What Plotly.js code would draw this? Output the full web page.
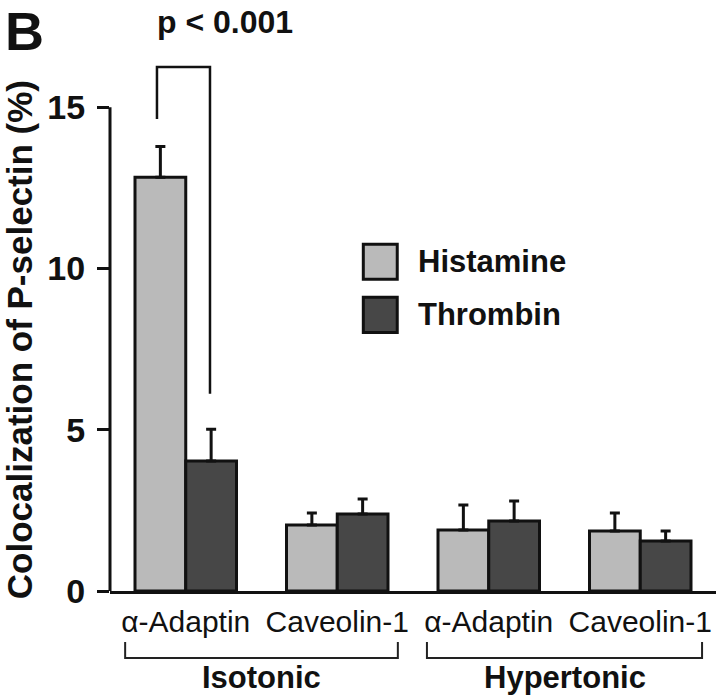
<!DOCTYPE html>
<html>
<head>
<meta charset="utf-8">
<script src="https://cdn.plot.ly/plotly-3.0.1.min.js"></script>
<style>html,body{margin:0;padding:0;background:#fff;}#chart{width:720px;height:700px;}</style>
</head>
<body>
<div id="chart"></div>
<script>
// ---- data ----
const categoryKeys = ["iso-adaptin", "iso-caveolin", "hyper-adaptin", "hyper-caveolin"];
const tickLabels = ["α-Adaptin", "Caveolin-1", "α-Adaptin", "Caveolin-1"];
const groupLabels = ["Isotonic", "Hypertonic"];
const seriesNames = ["Histamine", "Thrombin"];
const histamine = [12.83, 2.05, 1.89, 1.86];
const histamineErr = [0.96, 0.37, 0.78, 0.56];
const thrombin = [4.03, 2.39, 2.17, 1.55];
const thrombinErr = [0.99, 0.46, 0.62, 0.31];
const yTicks = [0, 5, 10, 15];
const yTitle = "Colocalization of P-selectin (%)";
const pLabel = "p < 0.001";
const panelLabel = "B";

// ---- style ----
const colors = ["#bababa", "#474747"];
const FONT = "Liberation Sans, Arial, Helvetica, sans-serif";

function barTrace(name, vals, errs, color) {
  return {
    type: "bar", name: name, x: categoryKeys, y: vals,
    marker: {color: color, line: {color: "#111", width: 3}},
    error_y: {type: "data", symmetric: false, array: errs, arrayminus: vals.map(() => 0),
              color: "#111", thickness: 3, width: 5},
    showlegend: false, hoverinfo: "skip"
  };
}
const traces = [
  barTrace(seriesNames[0], histamine, histamineErr, colors[0]),
  barTrace(seriesNames[1], thrombin, thrombinErr, colors[1])
];

const yTop = 16.5;
const shapes = [];
const annotations = [];
// y axis line from 0 to 15
shapes.push({type: "line", xref: "paper", yref: "y", x0: 0, x1: 0, y0: 0, y1: yTicks[yTicks.length - 1],
             line: {color: "#111", width: 3}});
// significance bracket over first group
const hOff = -0.19, tOff = 0.16;
shapes.push({type: "path", xref: "x", yref: "y",
  path: `M ${hOff} ${histamine[0] + histamineErr[0] + 0.85} L ${hOff} 16.25 L ${tOff} 16.25 L ${tOff} ${thrombin[0] + thrombinErr[0] + 1.1}`,
  line: {color: "#111", width: 2.5}});
annotations.push({xref: "paper", yref: "paper", x: 0.19, y: 1.108, yanchor: "top", xanchor: "center",
  text: "<b>" + pLabel + "</b>", showarrow: false, font: {family: FONT, size: 32, color: "#111"}});
// panel letter
annotations.push({xref: "paper", yref: "paper", x: -0.177, y: 1.112, xanchor: "left", yanchor: "top",
  text: "<b>" + panelLabel + "</b>", showarrow: false, font: {family: FONT, size: 54, color: "#111"}});
// y title
annotations.push({xref: "paper", yref: "paper", x: -0.148, y: 0.472, xanchor: "center", yanchor: "middle",
  textangle: -90, text: "<b>" + yTitle + "</b>", showarrow: false, font: {family: FONT, size: 35, color: "#111"}});
// group brackets
const groupSpans = [[0.025, 0.475], [0.523, 0.977]];
groupSpans.forEach((s, i) => {
  shapes.push({type: "path", xref: "paper", yref: "paper",
    path: `M ${s[0]} -0.096 L ${s[0]} -0.126 L ${s[1]} -0.126 L ${s[1]} -0.096`,
    line: {color: "#222", width: 2}});
  annotations.push({xref: "paper", yref: "paper", x: (s[0] + s[1]) / 2, y: -0.163, xanchor: "center", yanchor: "middle",
    text: "<b>" + groupLabels[i] + "</b>", showarrow: false, font: {family: FONT, size: 31, color: "#111"}});
});
// manual legend
const legX = 0.418, legY = [0.619, 0.519];
seriesNames.forEach((n, i) => {
  shapes.push({type: "rect", xref: "paper", yref: "paper", x0: legX, x1: legX + 0.056,
    y0: legY[i] - 0.033, y1: legY[i] + 0.033, fillcolor: colors[i], line: {color: "#111", width: 3}});
  annotations.push({xref: "paper", yref: "paper", x: legX + 0.087, y: legY[i], xanchor: "left", yanchor: "middle",
    text: "<b>" + n + "</b>", showarrow: false, font: {family: FONT, size: 31, color: "#111"}});
});

const layout = {
  width: 720, height: 700,
  margin: {l: 110, r: 4, t: 59, b: 109},
  paper_bgcolor: "#fff", plot_bgcolor: "#fff",
  barmode: "group", bargap: 0.33, bargroupgap: 0,
  xaxis: {type: "category", categoryarray: categoryKeys, tickvals: categoryKeys, ticktext: tickLabels,
    showline: true, linecolor: "#111", linewidth: 3, ticks: "outside", ticklen: 2, tickcolor: "rgba(0,0,0,0)",
    tickfont: {family: FONT, size: 30, color: "#111"}, showgrid: false, zeroline: false, fixedrange: true},
  yaxis: {range: [0, yTop], tickvals: yTicks, ticktext: yTicks.map(String), showline: false,
    ticks: "outside", ticklen: 12, tickwidth: 3, tickcolor: "#111", ticklabelstandoff: 5,
    tickfont: {family: FONT, size: 34, color: "#111", weight: "bold"},
    showgrid: false, zeroline: false, fixedrange: true},
  shapes: shapes, annotations: annotations,
  font: {family: FONT, color: "#111"}
};
Plotly.newPlot("chart", traces, layout, {displayModeBar: false, staticPlot: true});
</script>
</body>
</html>
